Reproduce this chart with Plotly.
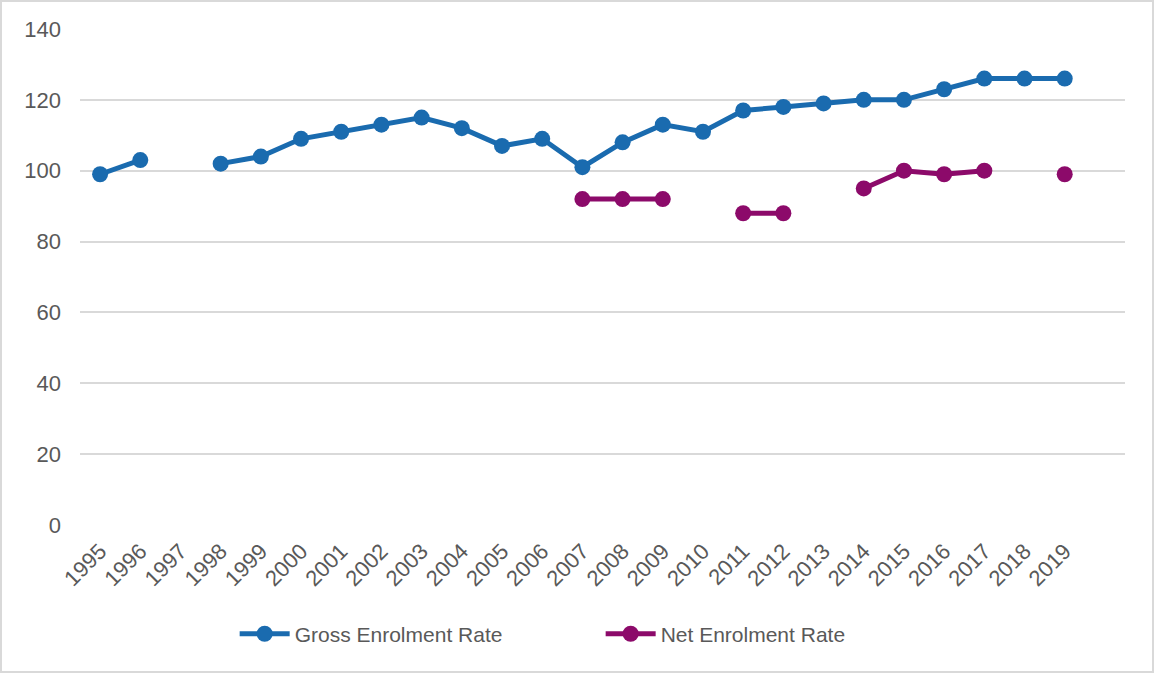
import plotly.graph_objs as go

# data
years = [str(y) for y in range(1995, 2020)]
gross_rate = [99, 103, None, 102, 104, 109, 111, 113, 115, 112, 107, 109, 101,
              108, 113, 111, 117, 118, 119, 120, 120, 123, 126, 126, 126]
net_rate = [None, None, None, None, None, None, None, None, None, None, None, None, 92,
            92, 92, None, 88, 88, None, 95, 100, 99, 100, None, 99]

BLUE = '#1A6BAF'
PURPLE = '#8C0A6A'
GREY_TXT = '#595959'

fig = go.Figure()
fig.add_trace(go.Scatter(x=years, y=gross_rate, name='Gross Enrolment Rate',
                         mode='lines+markers',
                         line=dict(color=BLUE, width=5),
                         marker=dict(color=BLUE, size=16)))
fig.add_trace(go.Scatter(x=years, y=net_rate, name='Net Enrolment Rate',
                         mode='lines+markers',
                         line=dict(color=PURPLE, width=5),
                         marker=dict(color=PURPLE, size=16)))

fig.update_layout(
    width=1154, height=673,
    margin=dict(l=80, r=29, t=29, b=148),
    paper_bgcolor='white', plot_bgcolor='white',
    font=dict(family='Liberation Sans, Arial', size=20, color=GREY_TXT),
    showlegend=True,
    legend=dict(orientation='h', x=0.148, xanchor='left', y=-0.22, yanchor='middle',
                font=dict(size=21, color=GREY_TXT), itemwidth=50,
                entrywidth=301, entrywidthmode='pixels'),
    xaxis=dict(type='category', categoryorder='array', categoryarray=years,
               range=[-0.5, 25.5], tickangle=-45, showgrid=False, showline=False,
               zeroline=False, ticks='', automargin=False, ticklabelstandoff=8,
               tickfont=dict(size=22, color=GREY_TXT)),
    yaxis=dict(range=[0, 140], dtick=20, showgrid=True, gridcolor='#D9D9D9', gridwidth=2,
               zeroline=False, showline=False, ticks='', automargin=False,
               ticklabelstandoff=18, tickfont=dict(size=22, color=GREY_TXT)),
)

# outer chart border
fig.add_shape(type='rect', xref='paper', yref='paper',
              x0=-79 / 1045, x1=1 + 28 / 1045, y0=-147 / 496, y1=1 + 28 / 496,
              line=dict(color='#D9D9D9', width=2), layer='below')

# drop the default page margin so the chart sits at the window's corner
fig.write_html("out.html", config={'displayModeBar': False},
               post_script="document.body.style.margin='0';")
